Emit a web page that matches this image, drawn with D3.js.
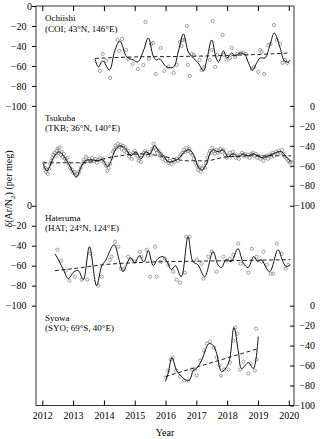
<!DOCTYPE html>
<html>
<head>
<meta charset="utf-8">
<script src="https://cdn.jsdelivr.net/npm/d3@7"></script>
<style>
body { margin: 0; background: #fff; }
text { font-family: "Liberation Serif", "Times New Roman", serif; fill: #000; }
</style>
</head>
<body>
<script>
// Stations, top to bottom
const stations = ["Ochiishi", "Tsukuba", "Hateruma", "Syowa"];
const stationCodes = ["(COI; 43°N, 146°E)", "(TKB; 36°N, 140°E)", "(HAT; 24°N, 124°E)", "(SYO; 69°S, 40°E)"];
const axisSide = ["left", "right", "left", "right"];

const years = [2012, 2013, 2014, 2015, 2016, 2017, 2018, 2019, 2020];
const yTicks = [0, -20, -40, -60, -80, -100];

// [decimal year, per meg]
const coiPoints = [
  [2013.87,-65],[2013.96,-48],[2014.07,-55],[2014.20,-72],[2014.44,-34],[2014.59,-33],[2014.50,-45],
  [2014.72,-44],[2014.79,-53],[2014.93,-58],[2015.10,-63],[2015.28,-59],[2015.35,-16],[2015.46,-53],
  [2015.53,-38],[2015.60,-37],[2015.68,-68],[2015.84,-42],[2015.96,-65],[2016.09,-61],[2016.26,-67],
  [2016.36,-59],[2016.47,-36],[2016.55,-34],[2016.61,-34],[2016.52,-40],[2016.69,-20],[2016.72,-59],
  [2016.79,-70],[2016.85,-48],[2016.92,-49],[2017.10,-54],[2017.17,-64],[2017.26,-61],[2017.44,-54],
  [2017.50,-44],[2017.53,-15],[2017.61,-61],[2017.68,-49],[2017.85,-29],[2017.90,-49],[2017.98,-54],
  [2018.09,-52],[2018.15,-42],[2018.26,-51],[2018.33,-48],[2018.44,-47],[2018.53,-47],[2018.61,-48],
  [2018.80,-63],[2018.88,-61],[2019.01,-66],[2019.20,-68],[2019.07,-44],[2019.12,-46],[2019.34,-39],
  [2019.41,-38],[2019.52,-19],[2019.61,-34],[2019.72,-38],[2019.80,-57],[2019.88,-54],[2019.95,-57]
];
const coiFit = [
  [2013.71,-53],[2013.82,-61],[2013.96,-55],[2014.18,-64],[2014.35,-45],[2014.52,-35],[2014.74,-51],
  [2014.95,-54],[2015.10,-56],[2015.28,-45],[2015.44,-32],[2015.60,-50],[2015.70,-54],[2015.80,-53],
  [2016.04,-61],[2016.26,-61],[2016.42,-45],[2016.58,-28],[2016.74,-46],[2016.90,-52],[2017.06,-57],
  [2017.23,-65],[2017.33,-55],[2017.50,-34],[2017.64,-52],[2017.72,-56],[2017.88,-45],[2017.99,-52],
  [2018.15,-47],[2018.25,-50],[2018.42,-47],[2018.58,-49],[2018.68,-56],[2018.82,-64],[2018.96,-57],
  [2019.07,-52],[2019.23,-52],[2019.39,-39],[2019.53,-27],[2019.72,-42],[2019.86,-55],[2019.99,-56],
  [2020.04,-54]
];
const coiTrend = [[2013.71,-52.5],[2015.0,-51],[2016.5,-50.5],[2018.0,-49.5],[2019.0,-48.5],[2020.04,-47]];

const tkbPoints = [
  [2012.05,-57],[2012.08,-62],[2012.12,-66],[2012.15,-64],[2012.18,-68],[2012.22,-63],[2012.26,-58],
  [2012.30,-55],[2012.33,-52],[2012.36,-49],[2012.40,-47],[2012.44,-50],[2012.47,-45],[2012.50,-43],
  [2012.53,-47],[2012.56,-42],[2012.60,-49],[2012.63,-46],[2012.66,-51],[2012.70,-48],[2012.74,-53],
  [2012.78,-55],[2012.82,-52],[2012.86,-58],[2012.90,-62],[2012.95,-64],[2013.00,-67],[2013.05,-66],
  [2013.10,-70],[2013.14,-68],[2013.20,-66],[2013.25,-62],[2013.30,-58],[2013.34,-54],[2013.38,-56],
  [2013.42,-51],[2013.47,-55],[2013.52,-53],[2013.57,-56],[2013.62,-52],[2013.67,-55],[2013.72,-53],
  [2013.77,-57],[2013.82,-54],[2013.87,-52],[2013.92,-55],[2013.97,-53],[2014.02,-57],[2014.07,-60],
  [2014.11,-65],[2014.15,-62],[2014.20,-58],[2014.25,-52],[2014.29,-46],[2014.33,-44],[2014.37,-40],
  [2014.41,-42],[2014.45,-38],[2014.50,-41],[2014.54,-39],[2014.58,-43],[2014.62,-40],[2014.66,-45],
  [2014.70,-42],[2014.74,-47],[2014.78,-45],[2014.82,-51],[2014.86,-48],[2014.90,-53],[2014.95,-47],
  [2015.00,-45],[2015.04,-48],[2015.08,-50],[2015.12,-55],[2015.16,-52],[2015.20,-56],[2015.25,-50],
  [2015.30,-47],[2015.34,-45],[2015.38,-48],[2015.43,-50],[2015.48,-46],[2015.52,-49],[2015.57,-43],
  [2015.61,-38],[2015.65,-41],[2015.69,-44],[2015.73,-47],[2015.77,-45],[2015.82,-50],[2015.86,-48],
  [2015.90,-53],[2015.95,-51],[2016.00,-55],[2016.05,-53],[2016.10,-57],[2016.15,-55],[2016.20,-58],
  [2016.25,-54],[2016.30,-56],[2016.35,-53],[2016.40,-55],[2016.45,-51],[2016.50,-49],[2016.55,-47],
  [2016.60,-44],[2016.64,-46],[2016.68,-42],[2016.73,-45],[2016.78,-43],[2016.82,-47],[2016.87,-49],
  [2016.92,-53],[2016.97,-57],[2017.02,-60],[2017.06,-64],[2017.10,-62],[2017.14,-66],[2017.18,-63],
  [2017.23,-60],[2017.28,-62],[2017.32,-57],[2017.36,-52],[2017.40,-48],[2017.44,-45],[2017.48,-47],
  [2017.52,-42],[2017.56,-45],[2017.60,-48],[2017.65,-44],[2017.70,-47],[2017.74,-45],[2017.78,-43],
  [2017.83,-46],[2017.88,-44],[2017.93,-49],[2017.98,-52],[2018.03,-50],[2018.08,-47],[2018.13,-50],
  [2018.18,-46],[2018.23,-49],[2018.28,-52],[2018.33,-50],[2018.38,-53],[2018.43,-49],[2018.48,-47],
  [2018.53,-50],[2018.58,-48],[2018.63,-51],[2018.68,-49],[2018.73,-52],[2018.78,-48],[2018.83,-47],
  [2018.88,-50],[2018.93,-48],[2018.98,-52],[2019.03,-50],[2019.08,-53],[2019.13,-51],[2019.18,-55],
  [2019.23,-52],[2019.28,-50],[2019.33,-53],[2019.38,-49],[2019.43,-51],[2019.48,-47],[2019.53,-50],
  [2019.58,-46],[2019.63,-48],[2019.68,-45],[2019.73,-47],[2019.78,-44],[2019.83,-48],[2019.88,-51],
  [2019.93,-53],[2019.98,-55],[2020.03,-57],[2020.07,-56]
];
const tkbFit = [
  [2012.03,-58],[2012.15,-65],[2012.38,-51],[2012.55,-46],[2012.71,-51],[2012.87,-59],[2013.11,-71],
  [2013.26,-61],[2013.40,-55],[2013.58,-54],[2013.79,-55],[2013.95,-54],[2014.12,-61],[2014.22,-56],
  [2014.39,-43],[2014.55,-40],[2014.71,-43],[2014.87,-50],[2015.04,-46],[2015.20,-53],[2015.36,-46],
  [2015.50,-48],[2015.64,-40],[2015.80,-46],[2015.96,-51],[2016.08,-56],[2016.30,-55],[2016.45,-52],
  [2016.62,-46],[2016.78,-44],[2016.94,-51],[2017.06,-61],[2017.20,-64],[2017.33,-58],[2017.44,-48],
  [2017.55,-44],[2017.71,-46],[2017.87,-44],[2018.03,-51],[2018.19,-48],[2018.35,-51],[2018.52,-48],
  [2018.68,-50],[2018.84,-48],[2019.00,-50],[2019.17,-52],[2019.33,-50],[2019.49,-48],[2019.65,-46],
  [2019.76,-46],[2019.92,-51],[2020.08,-56]
];
const tkbTrend = [[2012.03,-57],[2013.3,-57],[2014.3,-51],[2015.2,-48],[2016.0,-51],[2016.7,-55],
  [2017.3,-55],[2018.0,-51],[2019.0,-50],[2020.08,-50]];

const hatPoints = [
  [2012.49,-44],[2012.61,-55],[2012.76,-65],[2012.88,-75],[2013.06,-71],[2013.28,-74],[2013.46,-74],
  [2013.55,-48],[2013.82,-80],[2013.93,-71],[2014.20,-54],[2014.25,-51],[2014.36,-36],[2014.47,-41],
  [2014.54,-63],[2014.65,-63],[2014.79,-51],[2014.90,-54],[2015.01,-56],[2015.17,-46],[2015.22,-51],
  [2015.39,-44],[2015.50,-71],[2015.66,-41],[2015.71,-71],[2015.85,-56],[2015.98,-53],[2016.09,-59],
  [2016.25,-66],[2016.36,-74],[2016.47,-77],[2016.63,-67],[2016.67,-31],[2016.78,-31],[2017.01,-54],
  [2017.17,-58],[2017.23,-73],[2017.39,-51],[2017.50,-46],[2017.66,-66],[2017.88,-51],[2017.98,-55],
  [2018.09,-53],[2018.20,-49],[2018.36,-38],[2018.44,-58],[2018.69,-67],[2018.80,-43],[2018.96,-51],
  [2019.12,-56],[2019.18,-46],[2019.28,-59],[2019.41,-68],[2019.50,-68],[2019.61,-38],[2019.77,-48],
  [2019.90,-63],[2019.98,-59]
];
const hatFit = [
  [2012.41,-48],[2012.52,-54],[2012.70,-65],[2012.84,-73],[2013.03,-66],[2013.17,-65],[2013.33,-74],
  [2013.53,-41],[2013.76,-80],[2013.93,-60],[2014.05,-55],[2014.33,-39],[2014.50,-55],[2014.62,-66],
  [2014.86,-52],[2015.00,-57],[2015.15,-50],[2015.30,-56],[2015.44,-45],[2015.60,-60],[2015.75,-53],
  [2015.92,-51],[2016.05,-56],[2016.19,-64],[2016.32,-60],[2016.51,-71],[2016.73,-31],[2016.89,-56],
  [2017.05,-59],[2017.27,-71],[2017.54,-46],[2017.70,-59],[2017.81,-62],[2017.97,-54],[2018.13,-56],
  [2018.35,-43],[2018.52,-57],[2018.68,-62],[2018.86,-51],[2018.99,-56],[2019.10,-54],[2019.38,-66],
  [2019.65,-44],[2019.81,-56],[2019.92,-61],[2020.05,-59]
];
const hatTrend = [[2012.41,-65],[2013.0,-63],[2014.0,-59],[2015.0,-57],[2016.0,-56],[2017.0,-55.5],
  [2018.0,-55],[2019.0,-54.5],[2020.05,-54]];

const syoPoints = [
  [2016.00,-72],[2016.09,-65],[2016.17,-54],[2016.23,-52],[2016.35,-65],[2016.47,-71],[2016.61,-75],
  [2016.74,-75],[2016.85,-64],[2016.96,-64],[2017.01,-70],[2017.12,-55],[2017.25,-45],[2017.34,-38],
  [2017.44,-36],[2017.57,-42],[2017.66,-52],[2017.75,-60],[2017.80,-70],[2017.90,-64],[2018.04,-64],
  [2018.09,-57],[2018.20,-35],[2018.26,-22],[2018.33,-28],[2018.42,-64],[2018.53,-56],[2018.69,-68],
  [2018.76,-58],[2018.90,-65],[2018.96,-54],[2018.94,-23]
];
const syoFit = [
  [2016.00,-76],[2016.09,-67],[2016.21,-52],[2016.36,-65],[2016.52,-71],[2016.69,-75],[2016.79,-74],
  [2016.90,-65],[2017.00,-63],[2017.17,-55],[2017.34,-41],[2017.42,-38],[2017.55,-40],[2017.66,-48],
  [2017.82,-66],[2018.04,-58],[2018.22,-22],[2018.36,-45],[2018.47,-63],[2018.69,-57],[2018.85,-63],
  [2019.01,-31]
];
const syoTrend = [[2016.00,-71],[2019.01,-43]];

const pointSets = [coiPoints, tkbPoints, hatPoints, syoPoints];
const fitSets = [coiFit, tkbFit, hatFit, syoFit];
const trendSets = [coiTrend, tkbTrend, hatTrend, syoTrend];

const W = 320, H = 439;
const frameLeft = 36, frameRight = 294, frameTop = 6, frameBottom = 405.5;
const serif = "Liberation Serif, Times New Roman, serif";

const svg = d3.select("body").append("svg")
  .attr("width", W).attr("height", H);

const x = d3.scaleLinear().domain([2011.795, 2020.17]).range([frameLeft, frameRight]);
const panelY = d3.scaleLinear().domain([0, 4]).range([frameTop, frameBottom]);
const y = d3.scaleLinear().domain([0, -100]).range([0, (frameBottom - frameTop) / 4]);

// frame
svg.append("rect")
  .attr("x", frameLeft).attr("y", frameTop)
  .attr("width", frameRight - frameLeft).attr("height", frameBottom - frameTop)
  .attr("fill", "none").attr("stroke", "#333").attr("stroke-width", 1);

// year ticks, inside
svg.append("g")
  .attr("transform", "translate(0," + frameBottom + ")")
  .call(d3.axisBottom(x).tickValues(years).tickFormat(d3.format("d")).tickSize(-5).tickPadding(6))
  .call(g => g.select(".domain").remove())
  .call(g => g.attr("font-family", serif).attr("font-size", 10));

svg.append("g")
  .attr("transform", "translate(0," + frameTop + ")")
  .call(d3.axisTop(x).tickValues(years).tickFormat("").tickSize(-5))
  .call(g => g.select(".domain").remove());

var line = d3.line()
  .x(function(d) { return x(d[0]); })
  .y(function(d) { return y(d[1]); });

stations.forEach(function(name, i) {
  var g = svg.append("g").attr("transform", "translate(0," + panelY(i) + ")");
  var isLeft = axisSide[i] == "left";

  var axis = isLeft ?
    d3.axisLeft(y).tickValues(yTicks).tickSize(4).tickPadding(5.5) :
    d3.axisRight(y).tickValues(yTicks).tickSize(-4).tickPadding(21);

  var ag = g.append("g")
    .attr("transform", "translate(" + (isLeft ? frameLeft : frameRight) + ",0)")
    .call(axis)
    .call(a => a.select(".domain").remove())
    .call(a => a.attr("font-family", serif).attr("font-size", 10));

  if (isLeft) {
    // the zero label sits closer to the axis than the negative ones
    ag.selectAll(".tick text").filter(function(d) { return d == 0; }).attr("dx", 5.5);
  } else {
    ag.selectAll(".tick text").attr("text-anchor", "end");
  }

  g.append("text").attr("x", 45).attr("y", 15).attr("font-size", 9).text(name);
  g.append("text").attr("x", 45).attr("y", 25.5).attr("font-size", 9).text(stationCodes[i]);

  g.selectAll("circle")
    .data(pointSets[i])
    .enter().append("circle")
    .attr("cx", function(d) { return x(d[0]); })
    .attr("cy", function(d) { return y(d[1]); })
    .attr("r", 1.6)
    .attr("fill", "none")
    .attr("stroke", "#888")
    .attr("stroke-width", 0.8);

  g.append("path")
    .datum(trendSets[i])
    .attr("fill", "none")
    .attr("stroke", "#222")
    .attr("stroke-width", 1)
    .attr("stroke-dasharray", "4,2.5")
    .attr("d", line.curve(d3.curveMonotoneX));

  g.append("path")
    .datum(fitSets[i])
    .attr("fill", "none")
    .attr("stroke", "#111")
    .attr("stroke-width", 1)
    .attr("d", line.curve(d3.curveCatmullRom.alpha(0.5)));
});

// axis titles
svg.append("text")
  .attr("x", (frameLeft + frameRight) / 2).attr("y", 436)
  .attr("text-anchor", "middle").attr("font-size", 10)
  .text("Year");

var yt = svg.append("text")
  .attr("transform", "translate(12,189) rotate(-90)")
  .attr("text-anchor", "middle").attr("font-size", 10);
yt.append("tspan").text("δ(Ar/N");
yt.append("tspan").attr("font-size", 7).attr("dy", 2.5).text("2");
yt.append("tspan").attr("dy", -2.5).text(")  (per meg)");
</script>
</body>
</html>
